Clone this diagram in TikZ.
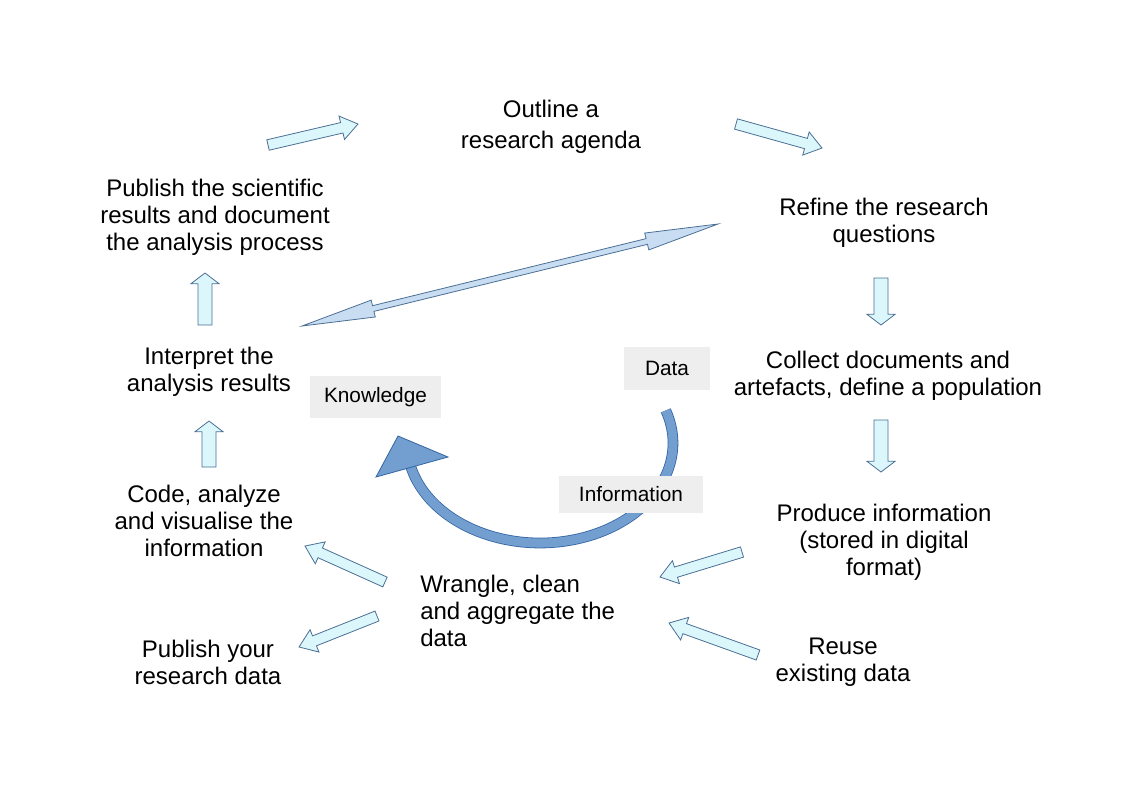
\documentclass[tikz,border=0pt]{standalone}
\usepackage{fontspec}
\setmainfont{Liberation Sans}
\usepackage{xcolor}
\usetikzlibrary{calc}
\definecolor{cyanfill}{HTML}{DCF7FB}
\definecolor{cyanedge}{HTML}{4B6F94}
\definecolor{pale}{HTML}{C9DDF2}
\definecolor{band}{HTML}{729FCF}
\definecolor{bandedge}{HTML}{3465A4}
\definecolor{tagfill}{HTML}{EEEEEE}
\tikzset{
  txt/.style={align=center,inner sep=0pt,font=\fontsize{18}{20.25}\selectfont},
  tag/.style={fill=tagfill,inner sep=0pt,font=\fontsize{15.6}{18}\selectfont},
  blk/.style={fill=cyanfill,draw=cyanedge,line width=0.6pt,line join=miter},
  dbl/.style={fill=pale,draw=cyanedge,line width=0.6pt},
  cyc/.style={draw=bandedge,double=band,double distance=6.8pt,line width=0.6pt},
}
% block arrow: tail, tip, half shaft, half head, head length
\newcommand{\barr}[5]{%
  \coordinate (bt) at (#1); \coordinate (bp) at (#2);
  \coordinate (bq) at ($(bp)!#5!(bt)$);
  \filldraw[blk] ($(bt)!#3!90:(bp)$) -- ($(bq)!#3!90:(bp)$) -- ($(bq)!#4!90:(bp)$) -- (bp)
    -- ($(bq)!#4!-90:(bp)$) -- ($(bq)!#3!-90:(bp)$) -- ($(bt)!#3!-90:(bp)$) -- cycle;}

\begin{document}
\begin{tikzpicture}[x=0.75pt,y=-0.75pt]
\useasboundingbox (0,0) rectangle (1123,794);
% the steps
\node[txt] (outline) at (551,126.5) {Outline a\\[3pt]research agenda};
\node[txt] (refine) at (884,222.5) {Refine the research\\questions};
\node[txt] (collect) at (888,375.5) {Collect documents and\\artefacts, define a population};
\node[txt] (produce) at (884,542) {Produce information\\(stored in digital\\format)};
\node[txt] (reuse) at (843,662.5) {Reuse\\existing data};
\node[txt,align=left,anchor=west] (wrangle) at (420,611) {Wrangle, clean\\and aggregate the\\data};
\node[txt] (pubdata) at (208,662.5) {Publish your\\research data};
\node[txt] (code) at (204,521) {Code, analyze\\and visualise the\\information};
\node[txt] (interpret) at (209,371.5) {Interpret the\\analysis results};
\node[txt] (pubsci) at (215,217) {Publish the scientific\\results and document\\the analysis process};
% data -> information -> knowledge
\draw[cyc] plot[domain=-19:167,samples=80] ({540+133*cos(\x)},{443+100*sin(\x)});
\filldraw[fill=band,draw=bandedge,line width=0.6pt] (376,477) -- (448,457) -- (398,436) -- cycle;
\node[tag,minimum width=98pt,minimum height=31.5pt] (know) at (375.5,397) {Knowledge};
\node[tag,minimum width=64.5pt,minimum height=32pt] (data) at (667,368.5) {Data};
\node[tag,minimum width=108pt,minimum height=27.75pt] (info) at (631,494.5) {Information};
% block arrows
\barr{268,145}{358,124}{4pt}{9pt}{12.5pt}
\barr{736,124}{822,148}{4pt}{9pt}{12.5pt}
\barr{881,278}{881,325}{5.25pt}{10.5pt}{8pt}
\barr{881,420}{881,472}{5.25pt}{10.5pt}{8pt}
\barr{205,325}{205,273}{5.25pt}{10.5pt}{8pt}
\barr{209,467}{209,421}{5.25pt}{10.5pt}{8pt}
\barr{742,552}{660,577}{4pt}{9pt}{12.5pt}
\barr{758,655}{669,623}{4pt}{9pt}{12.5pt}
\barr{385,582}{305,546}{4pt}{9pt}{12.5pt}
\barr{377,616}{299,647}{4pt}{9pt}{12.5pt}
% two-way arrow
\coordinate (dl) at (302,326); \coordinate (dr) at (718,224);
\coordinate (ql) at ($(dl)!55pt!(dr)$); \coordinate (qr) at ($(dr)!55pt!(dl)$);
\filldraw[dbl] (dl) -- ($(ql)!6.5pt!90:(dr)$) -- ($(ql)!2.2pt!90:(dr)$) -- ($(qr)!2.2pt!-90:(dl)$)
  -- ($(qr)!6.5pt!-90:(dl)$) -- (dr) -- ($(qr)!6.5pt!90:(dl)$) -- ($(qr)!2.2pt!90:(dl)$)
  -- ($(ql)!2.2pt!-90:(dr)$) -- ($(ql)!6.5pt!-90:(dr)$) -- cycle;
\end{tikzpicture}
\end{document}
